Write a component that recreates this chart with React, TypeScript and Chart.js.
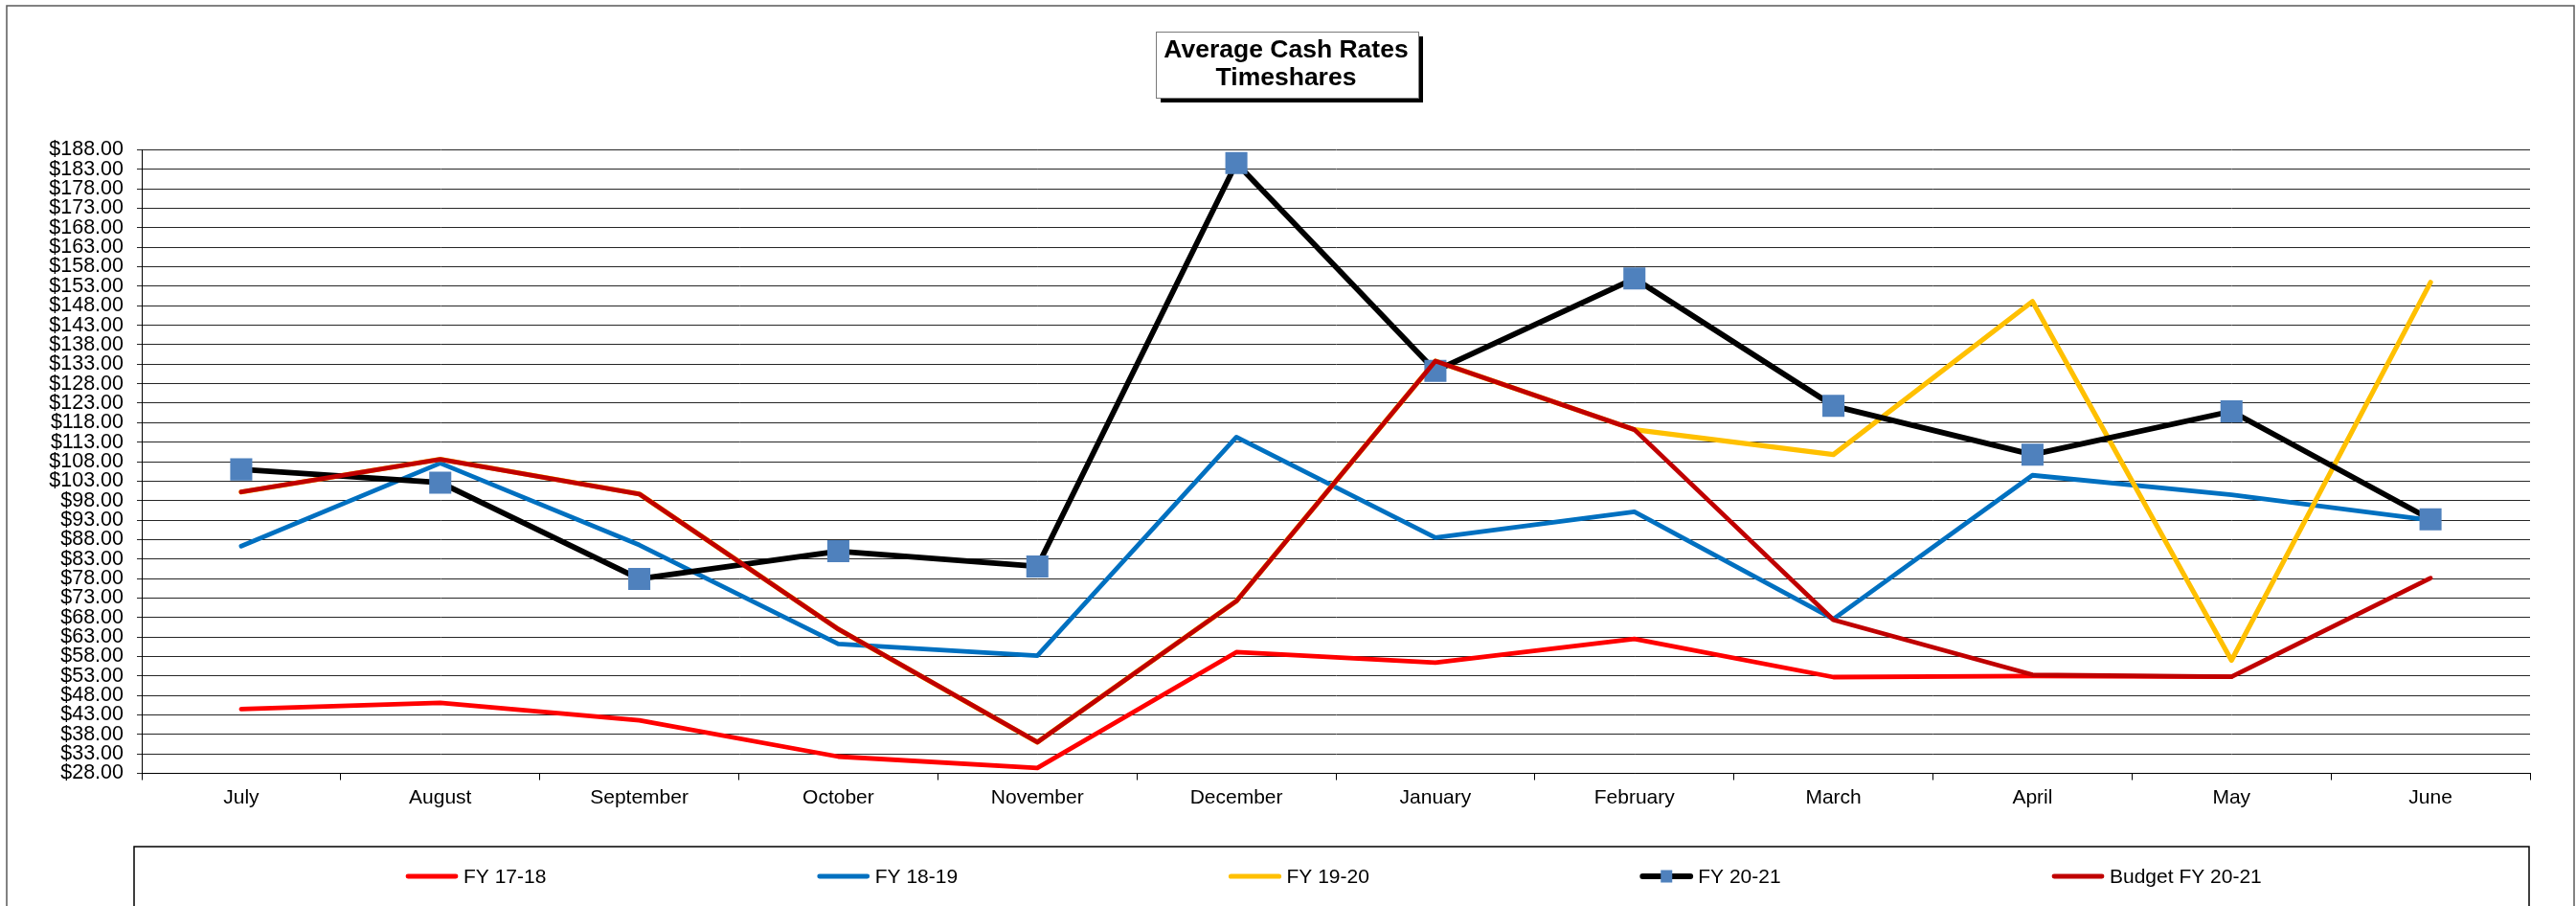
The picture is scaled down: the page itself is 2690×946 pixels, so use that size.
import { useEffect, useRef } from 'react';
import { Chart, registerables } from 'chart.js';

Chart.register(...registerables);

const TITLE_LINES = ['Average Cash Rates', 'Timeshares'];

const MONTHS = ['July', 'August', 'September', 'October', 'November', 'December', 'January', 'February', 'March', 'April', 'May', 'June'];

const Y_TICKS = [28, 33, 38, 43, 48, 53, 58, 63, 68, 73, 78, 83, 88, 93, 98, 103, 108, 113, 118, 123, 128, 133, 138, 143, 148, 153, 158, 163, 168, 173, 178, 183, 188];

const SERIES_NAMES = ['FY 17-18', 'FY 18-19', 'FY 19-20', 'FY 20-21', 'Budget FY 20-21'];

const FY_17_18 = [44.5, 46.1, 41.6, 32.3, 29.4, 59.1, 56.4, 62.5, 52.7, 53.0, 52.8, null];
const FY_18_19 = [86.3, 107.6, 86.6, 61.2, 58.2, 114.3, 88.5, 95.1, 67.6, 104.5, 99.5, 93.0];
const FY_19_20 = [100.2, 108.6, 99.7, 65.0, 36.0, 72.2, 133.8, 116.2, 109.8, 149.1, 57.0, 154.0];
const FY_20_21 = [106.0, 102.6, 77.9, 85.0, 81.1, 184.6, 131.3, 155.0, 122.3, 109.8, 120.9, 93.2];
const BUDGET_FY_20_21 = [100.2, 108.6, 99.7, 65.0, 36.0, 72.2, 133.8, 116.2, 67.4, 53.3, 52.8, 78.1];

const COLORS = ['#FF0000', '#0070C0', '#FFC000', '#000000', '#C00000'];
const WIDTHS = [4.8, 4.8, 5.2, 5.8, 4.8];
const MARKER_COLOR = '#4F81BD';

const FONT = '"Liberation Sans", Arial, sans-serif';

const W = 2690;
const H = 946;

const decorPlugin = {
  id: 'decor',
  beforeDraw(chart: any) {
    const ctx = chart.ctx;
    ctx.save();
    ctx.fillStyle = '#ffffff';
    ctx.fillRect(0, 0, chart.width, chart.height);
    ctx.restore();
  },
  afterDraw(chart: any) {
    const ctx = chart.ctx as CanvasRenderingContext2D;
    ctx.save();
    // outer border
    ctx.strokeStyle = '#5a5a5a';
    ctx.lineWidth = 1.5;
    ctx.strokeRect(7, 6, 2681, 980);

    // title box with shadow
    const tx = 1207, ty = 33, tw = 274, th = 69;
    ctx.fillStyle = '#000';
    ctx.fillRect(tx + 5, ty + 5, tw, th);
    ctx.fillStyle = '#fff';
    ctx.fillRect(tx, ty, tw, th);
    ctx.strokeStyle = '#7a7a7a';
    ctx.lineWidth = 1;
    ctx.strokeRect(tx + 0.5, ty + 0.5, tw, th);
    ctx.fillStyle = '#000';
    ctx.font = 'bold 26.5px ' + FONT;
    ctx.textAlign = 'center';
    ctx.textBaseline = 'middle';
    ctx.fillText(TITLE_LINES[0], tx + tw / 2 - 1, 53);
    ctx.fillText(TITLE_LINES[1], tx + tw / 2 - 1, 82);

    // legend box
    ctx.strokeStyle = '#000';
    ctx.lineWidth = 1.5;
    ctx.strokeRect(140, 884, 2501, 120);

    const ly = 915;
    ctx.font = '21px ' + FONT;
    ctx.textAlign = 'left';
    ctx.textBaseline = 'middle';
    for (let i = 0; i < SERIES_NAMES.length; i++) {
      const x0 = 424 + i * 429.75;
      ctx.strokeStyle = COLORS[i];
      ctx.lineWidth = WIDTHS[i];
      ctx.lineCap = 'round';
      ctx.beginPath();
      ctx.moveTo(x0 + 2, ly);
      ctx.lineTo(x0 + 52, ly);
      ctx.stroke();
      if (i === 3) {
        ctx.fillStyle = MARKER_COLOR;
        ctx.fillRect(x0 + 27 - 6, ly - 6.5, 12, 13);
      }
      ctx.fillStyle = '#000';
      ctx.fillText(SERIES_NAMES[i], x0 + 60, ly + 1);
    }
    ctx.restore();
  },
};

export default function App() {
  const ref = useRef<HTMLCanvasElement | null>(null);

  useEffect(() => {
    document.body.style.margin = '0';
    document.body.style.overflow = 'hidden';
    const canvas = ref.current;
    if (!canvas) return;
    const seriesData = [FY_17_18, FY_18_19, FY_19_20, FY_20_21, BUDGET_FY_20_21];
    const orders = [4, 3, 2, 1, 0];
    const datasets = seriesData.map((d, i) => ({
      label: SERIES_NAMES[i],
      data: d,
      borderColor: COLORS[i],
      backgroundColor: i === 3 ? MARKER_COLOR : COLORS[i],
      borderWidth: WIDTHS[i],
      borderCapStyle: 'round' as const,
      borderJoinStyle: 'round' as const,
      pointStyle: 'rect' as const,
      pointRadius: i === 3 ? 16.3 : 0,
      pointHoverRadius: i === 3 ? 16.3 : 0,
      pointBorderWidth: 0,
      pointBackgroundColor: MARKER_COLOR,
      pointBorderColor: MARKER_COLOR,
      tension: 0,
      spanGaps: false,
      fill: false,
      order: orders[i],
    }));

    const chart = new Chart(canvas, {
      type: 'line',
      data: { labels: MONTHS, datasets },
      options: {
        responsive: false,
        animation: false,
        devicePixelRatio: 1,
        events: [],
        layout: { padding: { left: 8, top: 156.5, right: 48, bottom: 78.5 } },
        plugins: {
          legend: { display: false },
          title: { display: false },
          tooltip: { enabled: false },
        },
        scales: {
          x: {
            type: 'category',
            offset: true,
            grid: {
              offset: true,
              drawOnChartArea: false,
              drawTicks: true,
              tickLength: 7,
              color: '#000',
              lineWidth: 1,
            },
            border: { display: true, color: '#000', width: 1 },
            ticks: {
              color: '#000',
              font: { family: FONT, size: 21 },
              padding: 6,
              maxRotation: 0,
              autoSkip: false,
            },
            afterFit: (scale: any) => {
              scale.height = 60;
            },
          },
          y: {
            type: 'linear',
            min: 28,
            max: 188,
            grid: {
              color: '#262626',
              lineWidth: 1,
              drawTicks: true,
              tickLength: 5,
            },
            border: { display: true, color: '#000', width: 1 },
            ticks: {
              color: '#000',
              font: { family: FONT, size: 21.5 },
              padding: 14,
              autoSkip: false,
              callback: (v: any) => '$' + Number(v).toFixed(2),
            },
            afterBuildTicks: (scale: any) => {
              scale.ticks = Y_TICKS.map((v) => ({ value: v }));
            },
            afterFit: (scale: any) => {
              scale.width = 140;
            },
          },
        },
      },
      plugins: [decorPlugin],
    });

    return () => {
      chart.destroy();
    };
  }, []);

  return (
    <div style={{ position: 'absolute', left: 0, top: 0, width: W, height: H, background: '#fff' }}>
      <canvas ref={ref} width={W} height={H} style={{ display: 'block', width: W, height: H }} />
    </div>
  );
}
